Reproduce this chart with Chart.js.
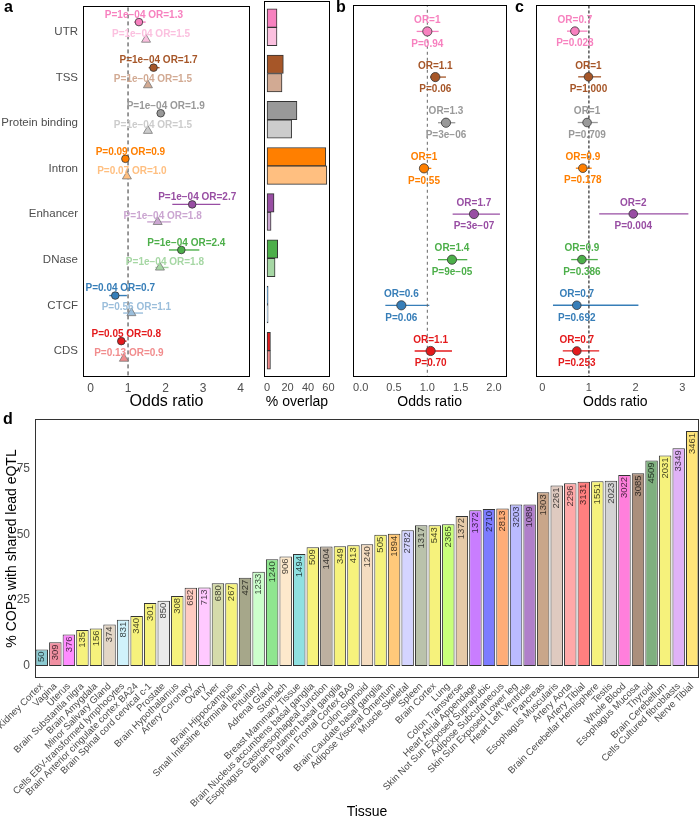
<!DOCTYPE html>
<html>
<head>
<meta charset="utf-8">
<script src="https://cdn.jsdelivr.net/npm/chart.js@4.4.0/dist/chart.umd.min.js"></script>
<style>
  body { margin: 0; background: #fff; }
  #fig { position: relative; width: 700px; height: 826px; font-family: "Liberation Sans", Arial, sans-serif; }
  #fig canvas { position: absolute; }
  .tag { position: absolute; font-weight: bold; font-size: 16px; line-height: 16px; color: #000; }
</style>
</head>
<body>
<div id="fig">
  <canvas id="forestA" width="256" height="418" style="left:0;top:0"></canvas>
  <canvas id="overlapA" width="90" height="418" style="left:256px;top:0"></canvas>
  <canvas id="forestB" width="176" height="418" style="left:336px;top:0"></canvas>
  <canvas id="forestC" width="184" height="418" style="left:516px;top:0"></canvas>
  <canvas id="tissueD" width="700" height="408" style="left:0;top:418px"></canvas>
  <div class="tag" style="left:4px;top:-1px">a</div>
  <div class="tag" style="left:336px;top:-1px">b</div>
  <div class="tag" style="left:515px;top:-1px">c</div>
  <div class="tag" style="left:3px;top:411px">d</div>
</div>
<script>
const FONT = '"Liberation Sans", Arial, sans-serif'

// ======= data : genomic features (panels a, b, c) =======
const features = ['UTR', 'TSS', 'Protein binding', 'Intron', 'Enhancer', 'DNase', 'CTCF', 'CDS']
const featureColors = ['#f781bf', '#a65628', '#999999', '#ff7f00', '#984ea3', '#4daf4a', '#377eb8', '#e41a1c']
const featureLight = ['#fbc0df', '#d2aa93', '#cccccc', '#ffbf80', '#cba6d1', '#a6d7a4', '#9bbedb', '#f18c8d']

// panel a, COPs (circles)
const orCop = [1.29, 1.68, 1.87, 0.93, 2.71, 2.42, 0.66, 0.82]
const loCop = [1.16, 1.55, 1.77, 0.90, 2.18, 2.09, 0.50, 0.75]
const hiCop = [1.47, 1.84, 1.99, 0.96, 3.46, 2.90, 0.97, 0.96]
const labCop = ['P=1e−04 OR=1.3', 'P=1e−04 OR=1.7', 'P=1e−04 OR=1.9', 'P=0.09 OR=0.9',
  'P=1e−04 OR=2.7', 'P=1e−04 OR=2.4', 'P=0.04 OR=0.7', 'P=0.05 OR=0.8']
// panel a, background (triangles)
const orBg = [1.48, 1.53, 1.53, 0.97, 1.79, 1.85, 1.09, 0.89]
const loBg = [1.44, 1.49, 1.49, 0.95, 1.51, 1.73, 0.87, 0.86]
const hiBg = [1.52, 1.57, 1.57, 0.99, 2.14, 2.08, 1.40, 0.92]
const labBg = ['P=1e−04 OR=1.5', 'P=1e−04 OR=1.5', 'P=1e−04 OR=1.5', 'P=0.07 OR=1.0',
  'P=1e−04 OR=1.8', 'P=1e−04 OR=1.8', 'P=0.56 OR=1.1', 'P=0.13 OR=0.9']
// panel a, % overlap
const overlapCop = [9.7, 15.9, 29.2, 57.4, 6.8, 10.4, 1.0, 3.3]
const overlapBg = [9.7, 14.6, 24.0, 58.4, 3.9, 7.8, 1.0, 3.3]

// panel b
const orB = [1.00, 1.12, 1.28, 0.95, 1.70, 1.37, 0.61, 1.05]
const loB = [0.84, 1.04, 1.16, 0.89, 1.38, 1.16, 0.37, 0.81]
const hiB = [1.17, 1.28, 1.42, 1.06, 2.09, 1.60, 1.03, 1.37]
const orLabB = ['OR=1', 'OR=1.1', 'OR=1.3', 'OR=1', 'OR=1.7', 'OR=1.4', 'OR=0.6', 'OR=1.1']
const pLabB = ['P=0.94', 'P=0.06', 'P=3e−06', 'P=0.55', 'P=3e−07', 'P=9e−05', 'P=0.06', 'P=0.70']

// panel c
const orC = [0.70, 0.99, 0.96, 0.87, 1.95, 0.85, 0.74, 0.74]
const loC = [0.53, 0.77, 0.76, 0.72, 1.22, 0.62, 0.23, 0.44]
const hiC = [0.97, 1.26, 1.19, 1.06, 3.13, 1.19, 2.06, 1.22]
const orLabC = ['OR=0.7', 'OR=1', 'OR=1', 'OR=0.9', 'OR=2', 'OR=0.9', 'OR=0.7', 'OR=0.7']
const pLabC = ['P=0.028', 'P=1.000', 'P=0.709', 'P=0.178', 'P=0.004', 'P=0.386', 'P=0.692', 'P=0.253']

// ======= data : tissues (panel d) =======
const tissues = ['Kidney Cortex', 'Vagina', 'Uterus', 'Brain Substantia nigra', 'Brain Amygdala',
  'Minor Salivary Gland', 'Cells EBV-transformed lymphocytes', 'Brain Anterior cingulate cortex BA24',
  'Brain Spinal cord cervical c-1', 'Prostate', 'Brain Hypothalamus', 'Artery Coronary', 'Ovary', 'Liver',
  'Brain Hippocampus', 'Small Intestine Terminal Ileum', 'Pituitary', 'Adrenal Gland', 'Stomach',
  'Breast Mammary Tissue', 'Brain Nucleus accumbens basal ganglia', 'Esophagus Gastroesophageal Junction',
  'Brain Putamen basal ganglia', 'Brain Frontal Cortex BA9', 'Colon Sigmoid', 'Brain Caudate basal ganglia',
  'Adipose Visceral Omentum', 'Muscle Skeletal', 'Spleen', 'Brain Cortex', 'Lung', 'Colon Transverse',
  'Heart Atrial Appendage', 'Skin Not Sun Exposed Suprapubic', 'Adipose Subcutaneous',
  'Skin Sun Exposed Lower leg', 'Heart Left Ventricle', 'Pancreas', 'Esophagus Muscularis', 'Artery Aorta',
  'Artery Tibial', 'Brain Cerebellar Hemisphere', 'Testis', 'Whole Blood', 'Esophagus Mucosa', 'Thyroid',
  'Brain Cerebellum', 'Cells Cultured fibroblasts', 'Nerve Tibial']
const pctShared = [6.3, 9.0, 12.0, 13.7, 14.3, 15.8, 17.6, 19.0, 23.9, 24.8, 26.6, 29.7, 29.8, 31.4, 31.4,
  33.5, 35.8, 40.5, 41.6, 42.5, 45.1, 45.4, 45.5, 45.8, 46.2, 49.8, 50.2, 51.5, 53.4, 53.4, 53.8, 56.9,
  59.1, 59.6, 59.8, 61.3, 61.3, 65.9, 68.5, 69.3, 69.9, 70.1, 70.3, 72.5, 73.1, 78.0, 79.9, 82.6, 89.2]
const nCops = [50, 309, 376, 135, 156, 374, 831, 340, 301, 850, 308, 682, 713, 680, 267, 427, 1233, 1240,
  906, 1494, 509, 1404, 349, 413, 1240, 505, 1894, 2782, 1317, 543, 2365, 1372, 1372, 2710, 2813, 3203,
  1089, 1303, 2261, 2296, 3131, 1551, 2023, 3022, 3085, 4509, 2031, 3349, 3461]
const tissueColors = ['#8ccbd2', '#f190a2', '#ff8cff', '#f6f27c', '#f6f27c', '#e3d6c6', '#d0f2fb', '#f6f27c',
  '#f6f27c', '#ebebeb', '#f6f27c', '#ffcbc1', '#ffc9ff', '#d5dbaa', '#f6f27c', '#a6a78a', '#ccffcc', '#8fe58f',
  '#fde9cc', '#8fe1e1', '#f6f27c', '#bdb0a0', '#f6f27c', '#f6f27c', '#f5dcc0', '#f6f27c', '#ffc97a', '#d4d4ff',
  '#bac2ab', '#f6f27c', '#c8ff7a', '#e6caa8', '#c97dff', '#7c7cff', '#ffad78', '#bbbbff', '#b07fca', '#c9a68a',
  '#dfcac0', '#ffa8a8', '#ff7f7f', '#f6f27c', '#d3d3d3', '#ff7fdc', '#ab8f7c', '#7fb07f', '#f6f27c', '#e0b2f7',
  '#ffe57a']
const yTicksD = [0, 25, 50, 75]

// ======= petits plugins maison =======
const boxPlugin = {
  id: 'box',
  afterDraw (chart, args, opts) {
    const { ctx, chartArea: a } = chart
    ctx.save()
    ctx.strokeStyle = opts.color || '#000'
    ctx.lineWidth = 1
    ctx.strokeRect(Math.round(a.left) + 0.5, Math.round(a.top) + 0.5,
      Math.round(a.right) - Math.round(a.left) - 1, Math.round(a.bottom) - Math.round(a.top) - 1)
    ctx.restore()
  }
}

// horizontal confidence intervals, drawn under the points
const errorBars = {
  id: 'errorBars',
  beforeDatasetsDraw (chart) {
    const { ctx, scales: { x, y } } = chart
    chart.data.datasets.forEach(ds => {
      if (!ds.lo) return
      ctx.save()
      ctx.lineWidth = ds.errWidth || 1.3
      ds.data.forEach((p, i) => {
        const py = y.getPixelForValue(p.y)
        ctx.strokeStyle = ds.backgroundColor[i]
        ctx.beginPath()
        ctx.moveTo(x.getPixelForValue(ds.lo[i]), py)
        ctx.lineTo(x.getPixelForValue(ds.hi[i]), py)
        ctx.stroke()
      })
      ctx.restore()
    })
  }
}

const pointLabels = {
  id: 'pointLabels',
  afterDatasetsDraw (chart) {
    const { ctx } = chart
    chart.data.datasets.forEach((ds, di) => {
      if (!ds.texts) return
      const meta = chart.getDatasetMeta(di)
      ctx.save()
      ctx.font = 'bold 10px ' + FONT
      ctx.textAlign = 'center'
      ctx.textBaseline = 'middle'
      ds.texts.forEach(t => {
        meta.data.forEach((pt, i) => {
          ctx.fillStyle = t.colors[i]
          ctx.fillText(t.values[i], pt.x + t.dx, pt.y + t.dy)
        })
      })
      ctx.restore()
    })
  }
}

function darken (hex, f) {
  const n = parseInt(hex.slice(1), 16)
  const r = Math.round(((n >> 16) & 255) * f)
  const g = Math.round(((n >> 8) & 255) * f)
  const b = Math.round((n & 255) * f)
  return `rgb(${r},${g},${b})`
}

const barLabels = {
  id: 'barLabels',
  afterDatasetsDraw (chart) {
    const { ctx } = chart
    const meta = chart.getDatasetMeta(0)
    ctx.save()
    ctx.font = '9.5px ' + FONT
    ctx.textAlign = 'right'
    ctx.textBaseline = 'middle'
    meta.data.forEach((bar, i) => {
      ctx.save()
      ctx.translate(bar.x, bar.y + 2)
      ctx.rotate(-Math.PI / 2)
      ctx.fillStyle = darken(tissueColors[i], 0.3)
      ctx.fillText(String(nCops[i]), 0, 0)
      ctx.restore()
    })
    ctx.restore()
  }
}

const yRows = { type: 'linear', reverse: true, min: -0.57, max: 7.57, offset: false }

function xAxis (min, max, ticks, fmt, title, titleSize, tickSize) {
  return {
    type: 'linear', min, max, offset: false,
    grid: { display: false, drawTicks: false }, border: { display: false },
    afterBuildTicks: s => { s.ticks = ticks.map(v => ({ value: v })) },
    ticks: { callback: fmt, color: '#4d4d4d', font: { family: FONT, size: tickSize }, padding: 4, maxRotation: 0 },
    title: { display: true, text: title, color: '#000', font: { family: FONT, size: titleSize },
      padding: { top: 0, bottom: 16 - titleSize * 0.6 } },
    afterFit: s => { s.height = 41; s.paddingLeft = 0; s.paddingRight = 0 }
  }
}

const baseOpts = {
  responsive: false, animation: false, devicePixelRatio: 1, events: []
}

function dashedOne (color, dash) {
  return { data: [{ x: 1, y: -1 }, { x: 1, y: 9 }], showLine: true, borderColor: color, borderWidth: 1,
    borderDash: dash, pointRadius: 0, order: 10 }
}

// ======= Panel a : forest plot =======
new Chart(document.getElementById('forestA'), {
  type: 'scatter',
  data: {
    datasets: [
      {
        data: features.map((f, i) => ({ x: orCop[i], y: i - 0.217 })),
        backgroundColor: featureColors, borderColor: '#333', borderWidth: 0.8, pointRadius: 3.8,
        lo: loCop, hi: hiCop, errWidth: 1.4,
        texts: [{ values: labCop, colors: featureColors, dx: 5, dy: -7 }]
      },
      {
        data: features.map((f, i) => ({ x: orBg[i], y: i + 0.167 })),
        backgroundColor: featureLight, borderColor: '#777', borderWidth: 0.8, pointRadius: 5.2,
        pointStyle: 'triangle', lo: loBg, hi: hiBg, errWidth: 1.4,
        texts: [{ values: labBg, colors: featureLight, dx: 5, dy: -5.5 }]
      },
      dashedOne('#333', [4, 3])
    ]
  },
  options: {
    ...baseOpts,
    layout: { padding: { top: 1, right: 3.3, left: 0, bottom: 0 } },
    plugins: { legend: { display: false }, tooltip: { enabled: false }, box: { color: '#000' } },
    scales: {
      x: xAxis(-0.2, 4.25, [0, 1, 2, 3, 4], v => v, 'Odds ratio', 16, 12),
      y: {
        ...yRows,
        grid: { display: false, drawTicks: false }, border: { display: false },
        afterBuildTicks: s => { s.ticks = features.map((f, i) => ({ value: i })) },
        ticks: { callback: v => features[v], color: '#4d4d4d', font: { family: FONT, size: 11.5 }, padding: 5 },
        afterFit: s => { s.width = 83; s.paddingTop = 0; s.paddingBottom = 0 }
      }
    }
  },
  plugins: [errorBars, pointLabels, boxPlugin]
})

// ======= Panel a : % overlap =======
new Chart(document.getElementById('overlapA'), {
  type: 'bar',
  data: {
    datasets: [
      { data: features.map((f, i) => ({ x: overlapCop[i], y: i })), backgroundColor: featureColors,
        borderColor: '#333', borderWidth: 1, borderSkipped: false, barThickness: 18.4 },
      { data: features.map((f, i) => ({ x: overlapBg[i], y: i })), backgroundColor: featureLight,
        borderColor: '#333', borderWidth: 1, borderSkipped: false, barThickness: 18.4 }
    ]
  },
  options: {
    ...baseOpts,
    indexAxis: 'y',
    layout: { padding: { top: 1, right: 16, left: 8, bottom: 0 } },
    plugins: { legend: { display: false }, tooltip: { enabled: false }, box: { color: '#000' } },
    scales: {
      x: xAxis(-3, 61.5, [0, 20, 40, 60], v => v, '% overlap', 14, 11),
      y: { ...yRows, display: false }
    }
  },
  plugins: [boxPlugin]
})

// ======= Panels b et c =======
function sidePanel (id, or, lo, hi, orLab, pLab, xr, ticks, fmt, radius, lineColor, dash, padL, padR) {
  return new Chart(document.getElementById(id), {
    type: 'scatter',
    data: {
      datasets: [
        {
          data: features.map((f, i) => ({ x: or[i], y: i })),
          backgroundColor: featureColors, borderColor: '#333', borderWidth: 0.8, pointRadius: radius,
          lo, hi, errWidth: 1.3,
          texts: [
            { values: orLab, colors: featureColors, dx: 0, dy: -11 },
            { values: pLab, colors: featureColors, dx: 0, dy: 12.5 }
          ]
        },
        dashedOne(lineColor, dash)
      ]
    },
    options: {
      ...baseOpts,
      layout: { padding: { top: 1, right: padR, left: padL, bottom: 0 } },
      plugins: { legend: { display: false }, tooltip: { enabled: false }, box: { color: '#000' } },
      scales: {
        x: xAxis(xr[0], xr[1], ticks, fmt, 'Odds ratio', 14, 11),
        y: { ...yRows, display: false }
      }
    },
    plugins: [errorBars, pointLabels, boxPlugin]
  })
}

sidePanel('forestB', orB, loB, hiB, orLabB, pLabB, [-0.12, 2.19], [0, 0.5, 1, 1.5, 2],
  v => v.toFixed(1), 4.6, '#666', [3, 3], 16.7, 5.3)
sidePanel('forestC', orC, loC, hiC, orLabC, pLabC, [-0.14, 3.27], [0, 1, 2, 3],
  v => v, 4.3, '#000', [3, 2], 19.7, 1)

// ======= Panel d : tissues =======
new Chart(document.getElementById('tissueD'), {
  type: 'bar',
  data: {
    labels: tissues,
    datasets: [{
      data: pctShared, backgroundColor: tissueColors, borderColor: '#333', borderWidth: 1,
      borderSkipped: false, barPercentage: 0.92, categoryPercentage: 1
    }]
  },
  options: {
    ...baseOpts,
    layout: { padding: { top: 1.3, right: 1, left: 0, bottom: 0 } },
    plugins: { legend: { display: false }, tooltip: { enabled: false }, box: { color: '#333' } },
    scales: {
      x: {
        grid: { display: false, drawTicks: false }, border: { display: false },
        ticks: { autoSkip: false, maxRotation: 45, minRotation: 45, color: '#4d4d4d',
          font: { family: FONT, size: 9.6 }, padding: 3 },
        title: { display: true, text: 'Tissue', color: '#000', font: { family: FONT, size: 14 },
          padding: { top: 0, bottom: 5.6 } },
        afterFit: s => { s.height = 148.3; s.paddingLeft = 0; s.paddingRight = 0 }
      },
      y: {
        min: -4.4, max: 93.6,
        grid: { display: false, drawTicks: false }, border: { display: false },
        afterBuildTicks: s => { s.ticks = yTicksD.map(v => ({ value: v })) },
        ticks: { color: '#4d4d4d', font: { family: FONT, size: 12 }, padding: 5 },
        title: { display: true, text: '% COPs with shared lead eQTL', color: '#000',
          font: { family: FONT, size: 14 }, padding: { top: 3.6, bottom: 0 } },
        afterFit: s => { s.width = 35; s.paddingTop = 0; s.paddingBottom = 0 }
      }
    }
  },
  plugins: [barLabels, boxPlugin]
})
</script>
</body>
</html>
